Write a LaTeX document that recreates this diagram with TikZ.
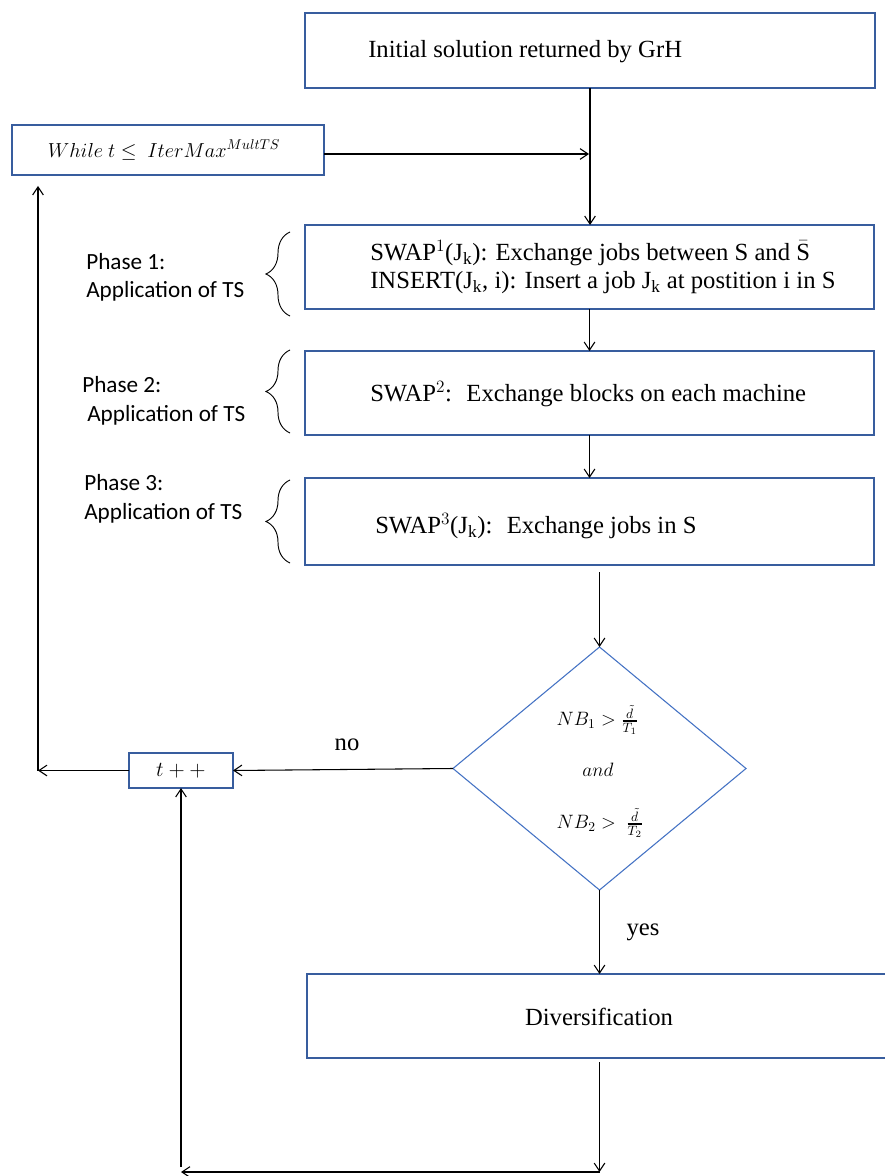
\RequirePackage{fix-cm}
\documentclass[tikz,border=0pt]{standalone}
\usepackage{fontspec}
\usepackage{amsmath}
\setmainfont{Liberation Serif}
\newfontfamily\labelfont{Carlito}
\usetikzlibrary{shapes.geometric,arrows.meta,decorations.pathreplacing}
\definecolor{boxblue}{RGB}{56,93,158}
\definecolor{diablue}{RGB}{68,114,196}
\def\pxu{0.75pt}
\newcommand{\myfrac}[2]{\genfrac{}{}{1.1pt}{1}{#1}{#2}}
\begin{document}
\begin{tikzpicture}[x=0.75pt,y=-0.75pt,
  box/.style={draw=boxblue,line width=1pt,inner sep=0pt,outer sep=0pt,rectangle},
  txt/.style={inner sep=0pt,font=\fontsize{18.5}{21}\selectfont},
  lbl/.style={inner sep=0pt,anchor=west,align=left,font=\labelfont\fontsize{17.4}{21.4}\selectfont},
  arr/.style={draw=black,line width=0.8pt,-{Straight Barb[length=6pt,width=8pt]}},
  brc/.style={draw=black,line width=0.7pt,decorate,decoration={brace,amplitude=18pt}},
  dtxt/.style={inner sep=0pt,font=\fontsize{14.5}{17}\selectfont}
]
\useasboundingbox (0,0) rectangle (884,1176);
\fill[white] (0,0) rectangle (884,1176);

% boxes
\node[box,minimum width=570*\pxu,minimum height=75*\pxu] (init) at (590,50.5) {};
\node[txt,anchor=west] (initT) at (368,52) {Initial solution returned by GrH};

\node[box,minimum width=312*\pxu,minimum height=50*\pxu] (while) at (168,150) {};
\node[inner sep=0pt,font=\fontsize{15.2}{18}\selectfont] (whileT) at (164,150) {$While\ t \leq\ IterMax^{MultTS}$};

\node[box,minimum width=569*\pxu,minimum height=84*\pxu] (p1) at (589.5,267) {};
\node[txt,anchor=west,align=left] (p1T) at (370,267) {SWAP$^1$(J$_\mathrm{k}$): Exchange jobs between S and $\bar{\text{S}}$\\INSERT(J$_\mathrm{k}$, i): Insert a job J$_\mathrm{k}$ at postition i in S};

\node[box,minimum width=569*\pxu,minimum height=84*\pxu] (p2) at (589.5,393) {};
\node[txt,anchor=west] (p2T) at (370,394) {SWAP$^2$:~ Exchange blocks on each machine};

\node[box,minimum width=569*\pxu,minimum height=87*\pxu] (p3) at (589.5,521.5) {};
\node[txt,anchor=west] (p3T) at (375,526) {SWAP$^3$(J$_\mathrm{k}$):~ Exchange jobs in S};

\node[diamond,draw=diablue,line width=0.8pt,inner sep=0pt,outer sep=0pt,minimum width=293*\pxu,minimum height=243*\pxu] (dia) at (599.5,768.5) {};
\node[dtxt] (nb1) at (597.5,720) {$NB_1 > \myfrac{\tilde d}{T_1}$};
\node[dtxt] (andT) at (598,770) {$and$};
\node[dtxt] (nb2) at (600,823) {$NB_2 >\ \myfrac{\tilde d}{T_2}$};

\node[box,minimum width=104*\pxu,minimum height=35*\pxu,font=\fontsize{16}{19}\selectfont] (tpp) at (181,770.5) {$t++$};

\node[box,minimum width=593*\pxu,minimum height=84*\pxu] (div) at (603.5,1016) {};
\node[txt] (divT) at (599,1017) {Diversification};

% phase labels and braces
\node[lbl] (ph1) at (86,277.5) {Phase 1:\\Application of TS};
\node[lbl] (ph2) at (82,401) {Phase 2:\\\hspace*{3.75pt}Application of TS};
\node[lbl] (ph3) at (84,499) {Phase 3:\\Application of TS};
\draw[brc] (290,316) -- (290,232);
\draw[brc] (290,433) -- (290,350);
\draw[brc] (290,563) -- (290,480);

% connectors
\coordinate (j1) at (589,154);
\draw[arr] (init.south) -- (init.south |- p1.north);
\draw[arr] (while.east |- j1) -- (j1);
\draw[arr] (p1.south) -- (p2.north);
\draw[arr] (p2.south) -- (p3.north);
\coordinate (s3) at (599.5,572);
\draw[arr] (s3) -- (dia.north);
\draw[arr] (dia.west) -- (tpp.east);
\node[txt] (noL) at (347,745) {no};
\coordinate (cA) at (38,770.5);
\coordinate (cB) at (38,186);
\draw[arr] (tpp.west) -- (cA);
\draw[arr] (cA) -- (cB);
\draw[arr] (dia.south) -- (dia.south |- div.north);
\node[txt] (yesL) at (643,932) {yes};
\coordinate (d1) at (599.5,1062);
\coordinate (d2) at (599.5,1172);
\coordinate (d3) at (181,1172);
\coordinate (d4) at (181,1167);
\draw[arr] (d1) -- (d2);
\draw[arr] (d2) -- (d3);
\draw[arr] (d4) -- (tpp.south);
\end{tikzpicture}
\end{document}
